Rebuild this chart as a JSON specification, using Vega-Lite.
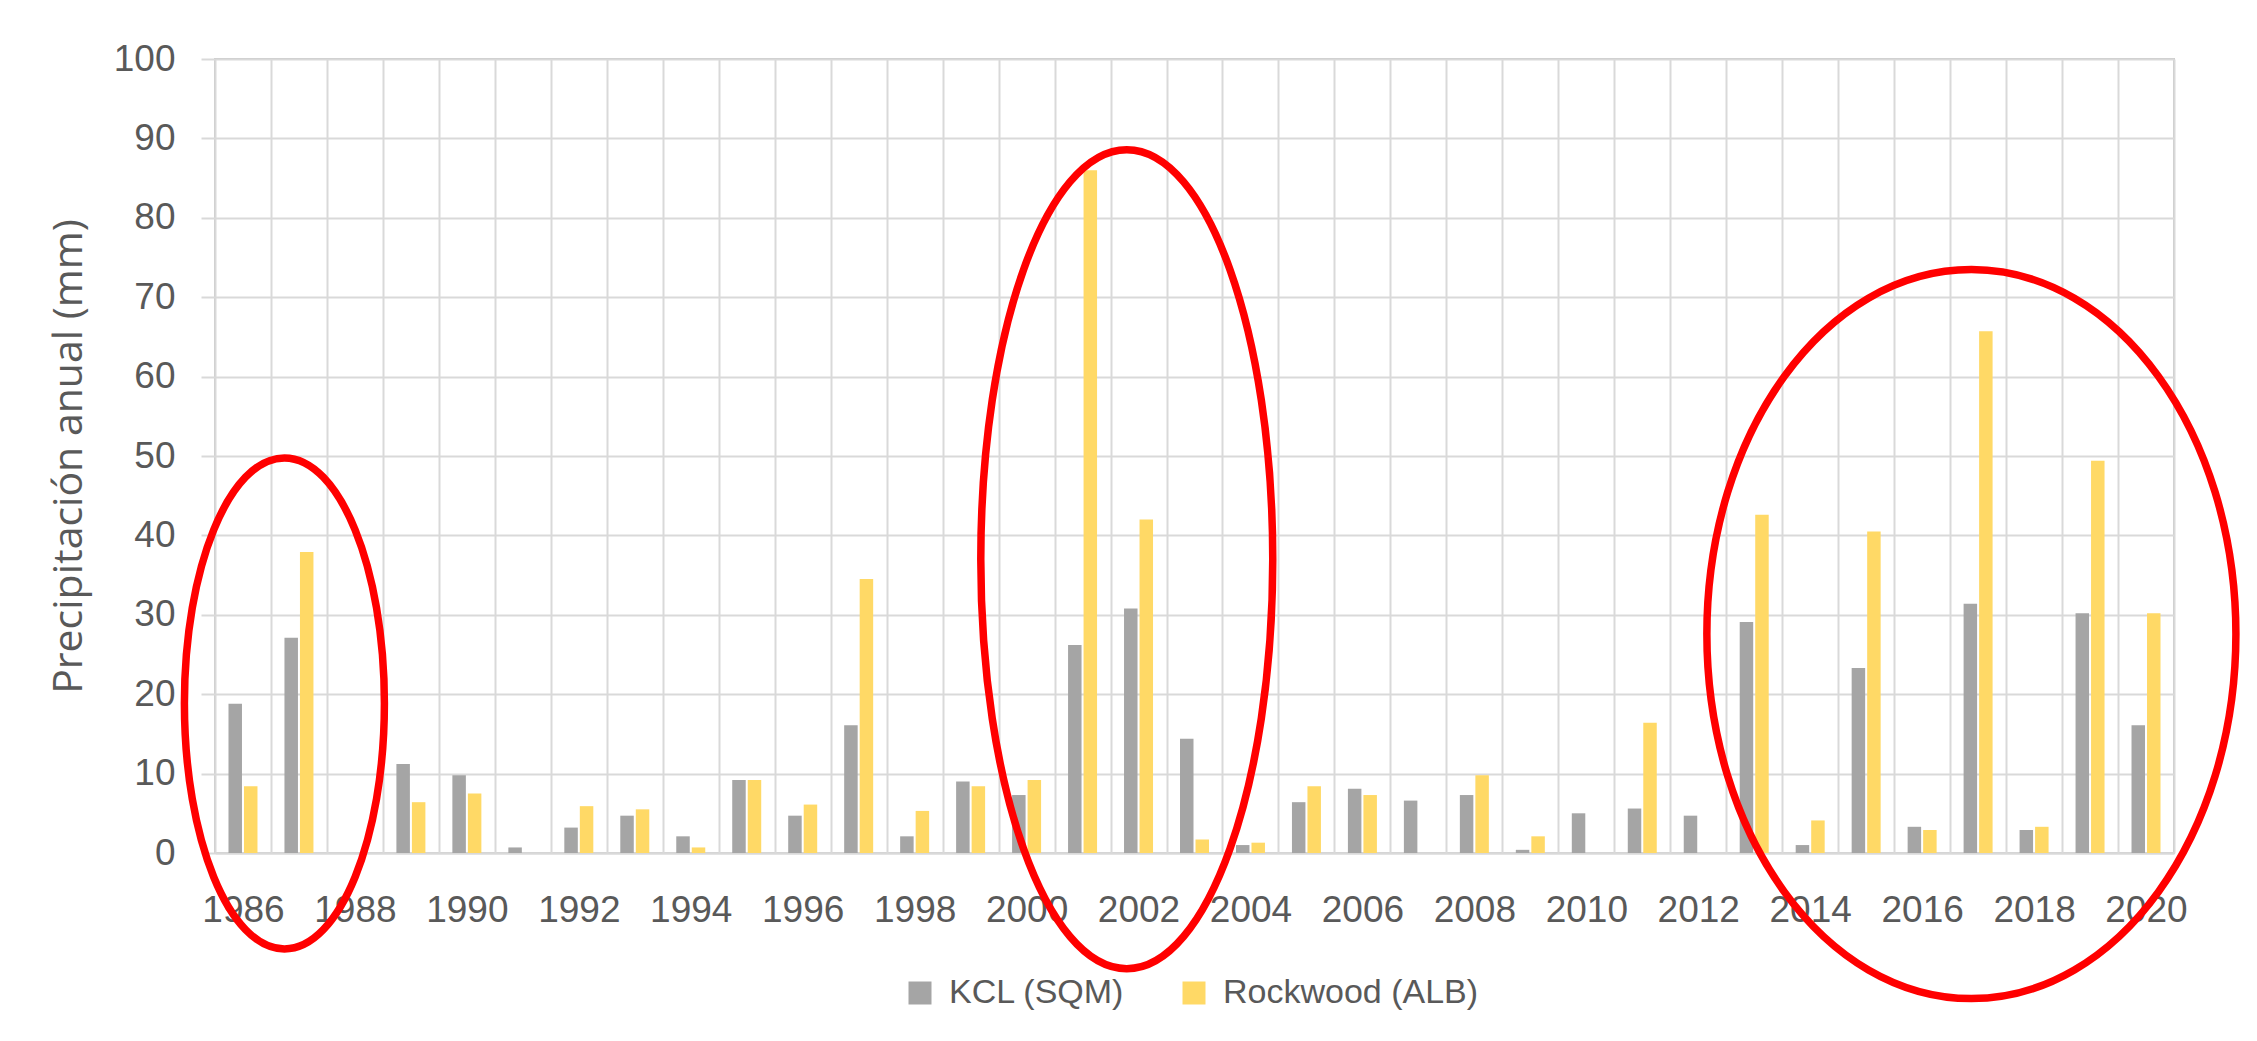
{
  "$schema": "https://vega.github.io/schema/vega-lite/v6.json",
  "autosize": {"type": "none"},
  "width": 1959,
  "height": 794,
  "padding": {"left": 215, "top": 59, "right": 83, "bottom": 188},
  "background": "white",
  "config": {
    "view": {"stroke": "#C8C8C8", "strokeWidth": 2},
    "font": "Liberation Sans"
  },
  "resolve": {"scale": {"x": "independent", "y": "independent"}},
  "layer": [
    {
      "data": {
        "values": [
          {"year": 1986, "series": "KCL (SQM)", "value": 18.8}, {"year": 1986, "series": "Rockwood (ALB)", "value": 8.4},
          {"year": 1987, "series": "KCL (SQM)", "value": 27.1}, {"year": 1987, "series": "Rockwood (ALB)", "value": 37.9},
          {"year": 1988, "series": "KCL (SQM)", "value": 0}, {"year": 1988, "series": "Rockwood (ALB)", "value": 0},
          {"year": 1989, "series": "KCL (SQM)", "value": 11.2}, {"year": 1989, "series": "Rockwood (ALB)", "value": 6.4},
          {"year": 1990, "series": "KCL (SQM)", "value": 9.8}, {"year": 1990, "series": "Rockwood (ALB)", "value": 7.5},
          {"year": 1991, "series": "KCL (SQM)", "value": 0.7}, {"year": 1991, "series": "Rockwood (ALB)", "value": 0},
          {"year": 1992, "series": "KCL (SQM)", "value": 3.2}, {"year": 1992, "series": "Rockwood (ALB)", "value": 5.9},
          {"year": 1993, "series": "KCL (SQM)", "value": 4.7}, {"year": 1993, "series": "Rockwood (ALB)", "value": 5.5},
          {"year": 1994, "series": "KCL (SQM)", "value": 2.1}, {"year": 1994, "series": "Rockwood (ALB)", "value": 0.7},
          {"year": 1995, "series": "KCL (SQM)", "value": 9.2}, {"year": 1995, "series": "Rockwood (ALB)", "value": 9.2},
          {"year": 1996, "series": "KCL (SQM)", "value": 4.7}, {"year": 1996, "series": "Rockwood (ALB)", "value": 6.1},
          {"year": 1997, "series": "KCL (SQM)", "value": 16.1}, {"year": 1997, "series": "Rockwood (ALB)", "value": 34.5},
          {"year": 1998, "series": "KCL (SQM)", "value": 2.1}, {"year": 1998, "series": "Rockwood (ALB)", "value": 5.3},
          {"year": 1999, "series": "KCL (SQM)", "value": 9.0}, {"year": 1999, "series": "Rockwood (ALB)", "value": 8.4},
          {"year": 2000, "series": "KCL (SQM)", "value": 7.3}, {"year": 2000, "series": "Rockwood (ALB)", "value": 9.2},
          {"year": 2001, "series": "KCL (SQM)", "value": 26.2}, {"year": 2001, "series": "Rockwood (ALB)", "value": 86.0},
          {"year": 2002, "series": "KCL (SQM)", "value": 30.8}, {"year": 2002, "series": "Rockwood (ALB)", "value": 42.0},
          {"year": 2003, "series": "KCL (SQM)", "value": 14.4}, {"year": 2003, "series": "Rockwood (ALB)", "value": 1.7},
          {"year": 2004, "series": "KCL (SQM)", "value": 1.0}, {"year": 2004, "series": "Rockwood (ALB)", "value": 1.3},
          {"year": 2005, "series": "KCL (SQM)", "value": 6.4}, {"year": 2005, "series": "Rockwood (ALB)", "value": 8.4},
          {"year": 2006, "series": "KCL (SQM)", "value": 8.1}, {"year": 2006, "series": "Rockwood (ALB)", "value": 7.3},
          {"year": 2007, "series": "KCL (SQM)", "value": 6.6}, {"year": 2007, "series": "Rockwood (ALB)", "value": 0},
          {"year": 2008, "series": "KCL (SQM)", "value": 7.3}, {"year": 2008, "series": "Rockwood (ALB)", "value": 9.8},
          {"year": 2009, "series": "KCL (SQM)", "value": 0.4}, {"year": 2009, "series": "Rockwood (ALB)", "value": 2.1},
          {"year": 2010, "series": "KCL (SQM)", "value": 5.0}, {"year": 2010, "series": "Rockwood (ALB)", "value": 0},
          {"year": 2011, "series": "KCL (SQM)", "value": 5.6}, {"year": 2011, "series": "Rockwood (ALB)", "value": 16.4},
          {"year": 2012, "series": "KCL (SQM)", "value": 4.7}, {"year": 2012, "series": "Rockwood (ALB)", "value": 0},
          {"year": 2013, "series": "KCL (SQM)", "value": 29.1}, {"year": 2013, "series": "Rockwood (ALB)", "value": 42.6},
          {"year": 2014, "series": "KCL (SQM)", "value": 1.0}, {"year": 2014, "series": "Rockwood (ALB)", "value": 4.1},
          {"year": 2015, "series": "KCL (SQM)", "value": 23.3}, {"year": 2015, "series": "Rockwood (ALB)", "value": 40.5},
          {"year": 2016, "series": "KCL (SQM)", "value": 3.3}, {"year": 2016, "series": "Rockwood (ALB)", "value": 2.9},
          {"year": 2017, "series": "KCL (SQM)", "value": 31.4}, {"year": 2017, "series": "Rockwood (ALB)", "value": 65.7},
          {"year": 2018, "series": "KCL (SQM)", "value": 2.9}, {"year": 2018, "series": "Rockwood (ALB)", "value": 3.3},
          {"year": 2019, "series": "KCL (SQM)", "value": 30.2}, {"year": 2019, "series": "Rockwood (ALB)", "value": 49.4},
          {"year": 2020, "series": "KCL (SQM)", "value": 16.1}, {"year": 2020, "series": "Rockwood (ALB)", "value": 30.2}
        ]
      },
      "mark": {"type": "bar"},
      "encoding": {
        "x": {
          "field": "year", "type": "ordinal",
          "scale": {"type": "band", "paddingInner": 0, "paddingOuter": 0},
          "axis": {
            "title": null, "tickBand": "extent", "ticks": false, "tickSize": 0,
            "grid": true, "gridColor": "#D9D9D9", "gridWidth": 2,
            "domainColor": "#D9D9D9", "domainWidth": 2,
            "labelAngle": 0, "labelExpr": "datum.value % 2 == 0 ? datum.label : ''",
            "labelFont": "Liberation Sans", "labelFontSize": 37, "labelColor": "#595959",
            "labelPadding": 39, "labelOverlap": false
          }
        },
        "xOffset": {
          "field": "series", "type": "nominal",
          "scale": {"domain": ["KCL (SQM)", "Rockwood (ALB)"], "paddingInner": 0.13, "paddingOuter": 0.87}
        },
        "y": {
          "field": "value", "type": "quantitative",
          "scale": {"domain": [0, 100], "nice": false},
          "axis": {
            "title": "Precipitación anual (mm)",
            "values": [0, 10, 20, 30, 40, 50, 60, 70, 80, 90, 100],
            "grid": true, "gridColor": "#D9D9D9", "gridWidth": 2,
            "ticks": true, "tickColor": "#D9D9D9", "tickWidth": 2, "tickSize": 14,
            "domain": false,
            "labelFont": "Liberation Sans", "labelFontSize": 37, "labelColor": "#595959", "labelPadding": 26,
            "titleFont": "Open Sans", "titleFontSize": 41, "titleFontWeight": "normal", "titleColor": "#595959",
            "titlePadding": 23
          }
        },
        "color": {
          "field": "series", "type": "nominal",
          "scale": {"domain": ["KCL (SQM)", "Rockwood (ALB)"], "range": ["#A5A5A5", "#FFD966"]},
          "legend": {
            "title": null, "orient": "none", "direction": "horizontal",
            "legendX": 688, "legendY": 917, "padding": 0,
            "symbolType": "square", "symbolSize": 529, "symbolStrokeWidth": 0,
            "labelFont": "Liberation Sans", "labelFontSize": 34, "labelColor": "#595959",
            "labelLimit": 600, "labelOffset": 12, "columnPadding": 52
          }
        }
      }
    },
    {
      "data": {"values": [{"cx": 1986.74, "cy": 18.84}]},
      "mark": {"type": "point", "shape": "M -0.4073,0 A 0.4073,1 0 1,0 0.4073,0 A 0.4073,1 0 1,0 -0.4073,0 Z", "size": 241081, "filled": false, "color": "#FF0000", "strokeWidth": 7.5, "opacity": 1},
      "encoding": {
        "x": {"field": "cx", "type": "quantitative", "scale": {"domain": [1985.5, 2020.5], "nice": false, "zero": false}, "axis": null},
        "y": {"field": "cy", "type": "quantitative", "scale": {"domain": [0, 100], "nice": false}, "axis": null}
      }
    },
    {
      "data": {"values": [{"cx": 2001.79, "cy": 37.0}]},
      "mark": {"type": "point", "shape": "M -0.3565,0 A 0.3565,1 0 1,0 0.3565,0 A 0.3565,1 0 1,0 -0.3565,0 Z", "size": 670761, "filled": false, "color": "#FF0000", "strokeWidth": 7.5, "opacity": 1},
      "encoding": {
        "x": {"field": "cx", "type": "quantitative", "scale": {"domain": [1985.5, 2020.5], "nice": false, "zero": false}, "axis": null},
        "y": {"field": "cy", "type": "quantitative", "scale": {"domain": [0, 100], "nice": false}, "axis": null}
      }
    },
    {
      "data": {"values": [{"cx": 2016.88, "cy": 27.57}]},
      "mark": {"type": "point", "shape": "M -0.7257,0 A 0.7257,1 0 1,0 0.7257,0 A 0.7257,1 0 1,0 -0.7257,0 Z", "size": 531441, "filled": false, "color": "#FF0000", "strokeWidth": 7.5, "opacity": 1},
      "encoding": {
        "x": {"field": "cx", "type": "quantitative", "scale": {"domain": [1985.5, 2020.5], "nice": false, "zero": false}, "axis": null},
        "y": {"field": "cy", "type": "quantitative", "scale": {"domain": [0, 100], "nice": false}, "axis": null}
      }
    }
  ]
}
